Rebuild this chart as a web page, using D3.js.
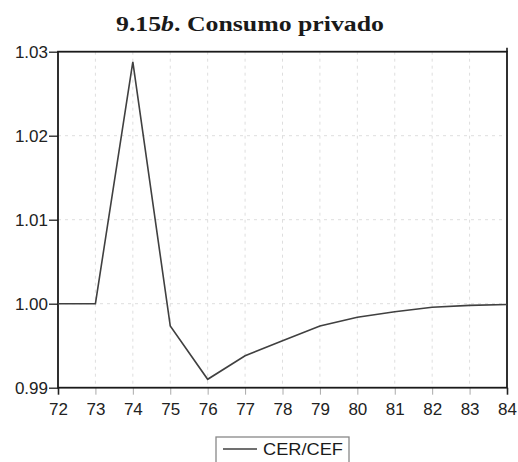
<!DOCTYPE html>
<html><head><meta charset="utf-8">
<script src="https://cdn.jsdelivr.net/npm/d3@7"></script>
<style>body{margin:0;background:#fff}svg{display:block}</style>
</head><body>
<script>
const years = [72,73,74,75,76,77,78,79,80,81,82,83,84];
const values = [1.0000,1.0000,1.0288,0.99735,0.9910,0.9938,0.9956,0.99735,0.99838,0.99905,0.99957,0.9998,0.9999];
const xTicks = [72,73,74,75,76,77,78,79,80,81,82,83,84];
const yTicks = [0.99,1.00,1.01,1.02,1.03];
const seriesName = "CER/CEF";

const W=518,H=462;
const m={l:58,r:507,t:51.7,b:387.7};
const svg=d3.select("body").append("svg").attr("width",W).attr("height",H);
const x=d3.scaleLinear().domain([72,84]).range([m.l,m.r]);
const y=d3.scaleLinear().domain([0.99,1.03]).range([m.b,m.t]);

// grid
svg.append("g").selectAll("line").data(xTicks.slice(1,-1)).join("line")
  .attr("x1",d=>x(d)).attr("x2",d=>x(d)).attr("y1",m.t).attr("y2",m.b)
  .attr("stroke","#dedede").attr("stroke-width",1).attr("stroke-dasharray","3,4");
svg.append("g").selectAll("line").data(yTicks.slice(1,-1)).join("line")
  .attr("x1",m.l).attr("x2",m.r).attr("y1",d=>y(d)).attr("y2",d=>y(d))
  .attr("stroke","#dedede").attr("stroke-width",1).attr("stroke-dasharray","3,4");

// axes
const font="'Liberation Sans', Arial, sans-serif";
const xa=svg.append("g").attr("transform",`translate(0,${m.b})`)
  .call(d3.axisBottom(x).tickValues(xTicks).tickFormat(d3.format("d")).tickSize(7).tickPadding(8));
const ya=svg.append("g").attr("transform",`translate(${m.l},0)`)
  .call(d3.axisLeft(y).tickValues(yTicks).tickFormat(d3.format(".2f")).tickSize(9).tickPadding(1));
[xa,ya].forEach(a=>{
  a.select(".domain").remove();
  a.selectAll("line").attr("stroke","#222").attr("stroke-width",1.3);
  a.selectAll("text").attr("font-family",font).attr("font-size",17).attr("fill","#222");
});
xa.selectAll(".tick line").attr("stroke","#aaa").attr("stroke-width",1);
xa.selectAll(".tick").filter(d=>d===72||d===84).select("line").attr("stroke","#222").attr("stroke-width",1.6);

// frame
svg.append("rect").attr("x",m.l).attr("y",m.t).attr("width",m.r-m.l).attr("height",m.b-m.t)
  .attr("fill","none").attr("stroke","#1a1a1a").attr("stroke-width",1.8);
svg.append("line").attr("x1",m.r).attr("x2",m.r).attr("y1",m.t-4).attr("y2",m.t).attr("stroke","#1a1a1a").attr("stroke-width",1.6);

// series
svg.append("path").datum(years.map((d,i)=>[d,values[i]]))
  .attr("d",d3.line().x(d=>x(d[0])).y(d=>y(d[1])))
  .attr("fill","none").attr("stroke","#404040").attr("stroke-width",1.6).attr("stroke-linejoin","miter");

// title
const t=svg.append("text").attr("x",116).attr("y",31)
  .attr("font-family","'Liberation Serif','Times New Roman',serif").attr("font-size",22).attr("font-weight","bold").attr("fill","#1a1a1a")
  .attr("textLength",268).attr("lengthAdjust","spacingAndGlyphs");
t.append("tspan").text("9.15");
t.append("tspan").attr("font-style","italic").text("b");
t.append("tspan").text(". Consumo privado");

// legend
const lg=svg.append("g");
lg.append("rect").attr("x",216).attr("y",437).attr("width",133).attr("height",40)
  .attr("fill","#fff").attr("stroke","#888").attr("stroke-width",1.3);
lg.append("line").attr("x1",223).attr("x2",257).attr("y1",449).attr("y2",449)
  .attr("stroke","#404040").attr("stroke-width",1.4);
lg.append("text").attr("x",263).attr("y",455).attr("font-family",font).attr("font-size",16.5)
  .attr("textLength",80).attr("lengthAdjust","spacingAndGlyphs").attr("fill","#1a1a1a").text(seriesName);
</script>
</body></html>
